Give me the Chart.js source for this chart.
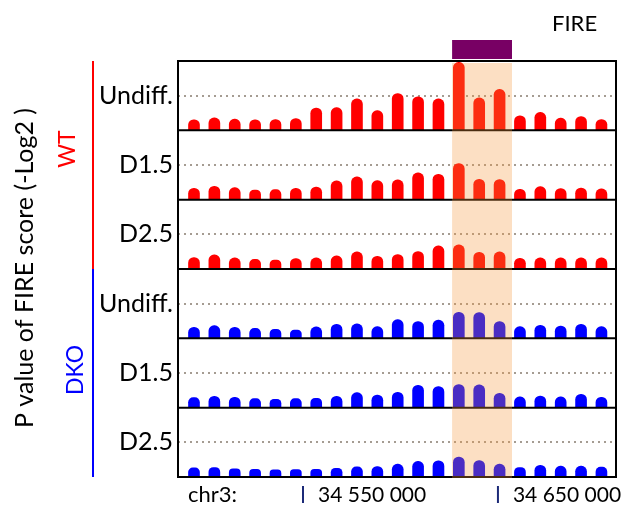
<!DOCTYPE html>
<html>
<head>
<meta charset="utf-8">
<script src="https://cdn.jsdelivr.net/npm/chart.js@4/dist/chart.umd.min.js"></script>
<style>
  html, body { margin: 0; padding: 0; background: #fff; }
  #wrap { width: 634px; height: 507px; }
</style>
</head>
<body>
<div id="wrap"><canvas id="chart" width="634" height="507"></canvas></div>
<script>
// bins along chr3 (one FIRE window each)
const bins = [0, 1, 2, 3, 4, 5, 6, 7, 8, 9, 10, 11, 12, 13, 14, 15, 16, 17, 18, 19, 20];

const rowLabels = ['Undiff.', 'D1.5', 'D2.5', 'Undiff.', 'D1.5', 'D2.5'];
const groupLabels = ['WT', 'DKO'];
const groupColors = ['#ff0000', '#0000ff'];

// -log2 P value of FIRE score, per row
const wtUndiff = [0.91, 1.08, 0.97, 0.91, 0.94, 1.02, 1.93, 1.96, 2.72, 1.70, 3.19, 2.90, 2.72, 5.88, 2.81, 3.54, 1.26, 1.55, 1.05, 1.20, 0.94];
const wtD15 = [0.98, 1.16, 1.04, 0.84, 0.87, 0.98, 1.10, 1.62, 1.97, 1.65, 1.71, 2.32, 2.20, 3.13, 1.77, 1.74, 0.90, 1.13, 0.96, 1.01, 0.93];
const wtD25 = [0.99, 1.22, 0.96, 0.84, 0.78, 0.90, 0.96, 1.13, 1.48, 1.10, 1.25, 1.51, 2.00, 2.09, 1.45, 1.48, 0.93, 0.96, 0.96, 0.96, 0.96];
const dkoUndiff = [0.96, 1.10, 0.96, 0.87, 0.78, 0.72, 0.99, 1.22, 1.25, 1.01, 1.62, 1.45, 1.57, 2.26, 2.23, 1.45, 1.01, 1.13, 1.07, 1.22, 1.01];
const dkoD15 = [0.87, 0.99, 0.90, 0.78, 0.72, 0.78, 0.81, 0.99, 1.30, 1.10, 1.33, 1.94, 1.83, 2.00, 1.97, 1.25, 0.93, 1.01, 0.93, 1.16, 0.90];
const dkoD25 = [0.79, 0.82, 0.70, 0.67, 0.61, 0.64, 0.67, 0.76, 0.88, 0.91, 1.11, 1.35, 1.40, 1.73, 1.43, 1.11, 0.82, 1.02, 0.94, 0.94, 0.85];

const rows = [wtUndiff, wtD15, wtD25, dkoUndiff, dkoD15, dkoD25];
const yMax = 6;
const yRef = 3;

// genomic ticks, in bin units
const chromLabel = 'chr3:';
const xTickPos = [5.35, 14.92];
const xTickLabels = ['34 550 000', '34 650 000'];

// FIRE region, in bin units
const fireRange = [12.67, 15.61];
const fireLabel = 'FIRE';
const yTitle = 'P value of FIRE score (-Log2 )';

const FONT = 'Lato';

const datasets = rows.map((vals, i) => ({
  label: rowLabels[i],
  data: bins.map((b, j) => ({ x: b, y: vals[j] })),
  yAxisID: 'y' + i,
  backgroundColor: groupColors[i < 3 ? 0 : 1],
  borderWidth: 0,
  barThickness: 11,
  grouped: false,
  borderSkipped: 'bottom',
  borderRadius: { topLeft: 5.5, topRight: 5.5, bottomLeft: 0, bottomRight: 0 },
}));

const scales = {
  x: {
    type: 'linear',
    min: -0.785,
    max: 20.715,
    offset: false,
    ticks: { display: false },
    grid: { display: false, offset: false },
    border: { display: false },
    afterFit: (s) => { s.height = 30; },
  },
};
rows.forEach((r, i) => {
  scales['y' + i] = {
    type: 'linear',
    position: 'left',
    stack: 'rows',
    stackWeight: 1,
    weight: rows.length - i,
    min: 0,
    max: yMax,
    afterBuildTicks: (s) => { s.ticks = [{ value: yRef }]; },
    afterFit: (s) => { s.width = 178; },
    ticks: {
      callback: () => rowLabels[i],
      font: { family: FONT, size: 25 },
      color: '#000',
      padding: 5,
    },
    grid: { color: '#a59c92', lineWidth: 2, drawTicks: false },
    border: { display: false, dash: [2, 4] },
  };
});

function rotText(ctx, txt, x, y, color) {
  ctx.save();
  ctx.translate(x, y);
  ctx.rotate(-Math.PI / 2);
  ctx.fillStyle = color;
  ctx.textAlign = 'center';
  ctx.textBaseline = 'middle';
  ctx.fillText(txt, 0, 0);
  ctx.restore();
}

const decor = {
  id: 'decor',
  afterDatasetsDraw(chart) {
    const { ctx, chartArea: a } = chart;
    ctx.save();
    ctx.strokeStyle = '#000';
    ctx.lineWidth = 2;
    ctx.strokeRect(a.left, a.top, a.right - a.left, a.bottom - a.top);
    for (let i = 0; i < rows.length - 1; i++) {
      const yb = chart.scales['y' + i].bottom;
      ctx.beginPath();
      ctx.moveTo(a.left, yb);
      ctx.lineTo(a.right, yb);
      ctx.stroke();
    }
    ctx.restore();
  },
  afterDraw(chart) {
    const { ctx, chartArea: a } = chart;
    const xs = chart.scales.x;
    const fx0 = xs.getPixelForValue(fireRange[0]);
    const fx1 = xs.getPixelForValue(fireRange[1]);
    ctx.save();

    // FIRE band and box
    ctx.fillStyle = 'rgba(245,150,55,0.3)';
    ctx.fillRect(fx0, a.top + 2, fx1 - fx0, a.bottom - a.top - 1);
    ctx.fillStyle = '#780064';
    ctx.fillRect(fx0, a.top - 21, fx1 - fx0, 19);

    ctx.font = '22px ' + FONT;
    ctx.fillStyle = '#000';
    ctx.textBaseline = 'middle';
    ctx.textAlign = 'left';
    ctx.fillText(fireLabel, 552, 24);

    // genomic axis
    ctx.fillText(chromLabel, 188, 495);
    ctx.font = '21px ' + FONT;
    xTickPos.forEach((p, i) => {
      const px = xs.getPixelForValue(p);
      ctx.strokeStyle = '#1c2a78';
      ctx.lineWidth = 2;
      ctx.beginPath();
      ctx.moveTo(px, 486);
      ctx.lineTo(px, 503);
      ctx.stroke();
      ctx.fillStyle = '#000';
      ctx.fillText(xTickLabels[i], px + 15, 495);
    });

    // group brackets
    const mid = chart.scales.y2.bottom;
    ctx.lineWidth = 2;
    ctx.strokeStyle = groupColors[0];
    ctx.beginPath(); ctx.moveTo(93, a.top); ctx.lineTo(93, mid); ctx.stroke();
    ctx.strokeStyle = groupColors[1];
    ctx.beginPath(); ctx.moveTo(93, mid); ctx.lineTo(93, a.bottom); ctx.stroke();

    ctx.font = '23px ' + FONT;
    rotText(ctx, groupLabels[0], 68, 149, groupColors[0]);
    rotText(ctx, groupLabels[1], 76, 370, groupColors[1]);
    ctx.font = '25px ' + FONT;
    rotText(ctx, yTitle, 25, 268, '#000');
    ctx.restore();
  },
};

new Chart(document.getElementById('chart'), {
  type: 'bar',
  data: { datasets: datasets },
  options: {
    responsive: false,
    animation: false,
    events: [],
    layout: { padding: { top: 61, right: 18, left: 0, bottom: 0 } },
    plugins: { legend: { display: false }, tooltip: { enabled: false } },
    scales: scales,
  },
  plugins: [decor],
});
</script>
</body>
</html>
